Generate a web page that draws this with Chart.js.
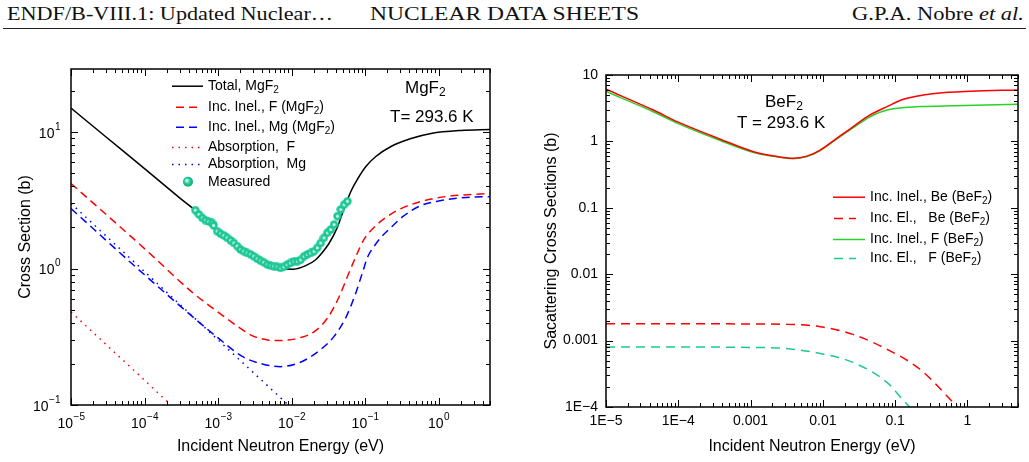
<!DOCTYPE html>
<html><head><meta charset="utf-8">
<script src="https://cdn.jsdelivr.net/npm/chart.js@4.4.0/dist/chart.umd.min.js"></script>
<style>
html,body{margin:0;padding:0;background:#fff;width:1029px;height:462px;overflow:hidden;}
#hdr span{position:absolute;top:4px;white-space:nowrap;transform-origin:0 0;font-family:"Liberation Serif","DejaVu Serif",serif;font-size:19px;line-height:19px;color:#111;}
#rule{position:absolute;left:3px;top:28px;width:1023px;height:1px;background:#222;}
.cv{position:absolute;top:40px;}
</style></head>
<body>
<div id="hdr">
  <span id="h1" data-w="326" style="left:7px">ENDF/B-VIII.1: Updated Nuclear…</span>
  <span id="h2" data-w="269" style="left:370px">NUCLEAR DATA SHEETS</span>
  <span id="h3" data-w="172" style="left:852px">G.P.A. Nobre <i>et al.</i></span>
</div>
<div id="rule"></div>
<canvas id="c1" class="cv" width="515" height="422" style="left:0px"></canvas>
<canvas id="c2" class="cv" width="514" height="422" style="left:515px"></canvas>
<script>
// ---------------- Left panel: MgF2 ----------------
const mgTickX = [1e-5, 1e-4, 1e-3, 1e-2, 1e-1, 1];
const mgTickXLabels = ['10⁻⁵', '10⁻⁴', '10⁻³', '10⁻²', '10⁻¹', '10⁰'];
const mgTickY = [0.1, 1, 10];
const mgTickYLabels = ['10⁻¹', '10⁰', '10¹'];

const mgTotalE = [1e-5, 3e-5, 1e-4, 3e-4, 5e-4, 1e-3, 2e-3, 4e-3, 7e-3, 1.07e-2, 1.56e-2, 2.13e-2, 2.49e-2, 3.21e-2, 4.12e-2, 5.14e-2, 6.4e-2, 7.98e-2, 0.1026, 0.14, 0.225, 0.422, 0.791, 2.03, 5];
const mgTotal  = [15.0, 9.2, 5.4, 3.3, 2.65, 1.88, 1.37, 1.09, 1.0, 0.99, 1.05, 1.16, 1.27, 1.52, 1.96, 2.71, 3.67, 4.57, 5.6, 6.62, 7.84, 8.97, 9.77, 10.28, 10.45];

const mgInelFE = [1e-5, 1e-4, 4.6e-4, 1e-3, 1.8e-3, 3e-3, 4.7e-3, 6.5e-3, 1.33e-2, 2.13e-2, 3.11e-2, 4.39e-2, 5.83e-2, 7.49e-2, 9.62e-2, 0.132, 0.192, 0.308, 0.577, 1.26, 5];
const mgInelF  = [4.2, 1.4, 0.66, 0.48, 0.38, 0.32, 0.30, 0.297, 0.312, 0.351, 0.437, 0.613, 0.889, 1.224, 1.632, 2.0, 2.37, 2.75, 3.10, 3.37, 3.55];

const mgInelMgE = [1e-5, 1e-4, 1e-3, 2.2e-3, 4e-3, 7.1e-3, 1.175e-2, 1.66e-2, 2.49e-2, 3.76e-2, 5.47e-2, 7.26e-2, 9.04e-2, 0.109, 0.132, 0.164, 0.225, 0.328, 0.577, 1.08, 2.37, 5];
const mgInelMg  = [2.75, 0.9, 0.31, 0.225, 0.2, 0.191, 0.201, 0.219, 0.255, 0.317, 0.437, 0.634, 0.904, 1.224, 1.45, 1.69, 2.0, 2.41, 2.90, 3.15, 3.32, 3.37];

const mgAbsFE = [1e-5, 1e-4, 2e-4, 3e-4];
const mgAbsF  = [0.48, 0.152, 0.107, 0.088];

const mgAbsMgE = [1e-5, 1e-4, 1e-3, 1e-2, 2e-2];
const mgAbsMg  = [3.0, 0.95, 0.30, 0.095, 0.067];

const measE = [4.9e-4, 5.5e-4, 6.1e-4, 6.7e-4, 7.5e-4, 8.3e-4, 8.7e-4, 9.7e-4, 1.08e-3, 1.2e-3, 1.33e-3, 1.48e-3, 1.64e-3, 1.82e-3, 2.02e-3, 2.24e-3, 2.49e-3, 2.77e-3, 3.07e-3, 3.41e-3, 3.79e-3, 4.2e-3, 4.67e-3, 5.19e-3, 5.75e-3, 6.39e-3, 7.1e-3, 7.88e-3, 8.75e-3, 9.7e-3, 1.08e-2, 1.2e-2, 1.33e-2, 1.48e-2, 1.64e-2, 1.82e-2, 2.02e-2, 2.24e-2, 2.49e-2, 2.76e-2, 3.07e-2, 3.4e-2, 3.78e-2, 4.2e-2, 4.67e-2, 5.18e-2, 5.75e-2];
const measS = [2.68, 2.49, 2.35, 2.26, 2.21, 2.16, 2.07, 1.88, 1.80, 1.75, 1.68, 1.61, 1.54, 1.46, 1.38, 1.34, 1.30, 1.27, 1.23, 1.18, 1.14, 1.11, 1.07, 1.05, 1.04, 1.03, 1.01, 1.03, 1.07, 1.10, 1.13, 1.13, 1.16, 1.23, 1.27, 1.30, 1.34, 1.42, 1.54, 1.68, 1.83, 1.93, 2.10, 2.42, 2.71, 2.94, 3.11];

// ---------------- Right panel: BeF2 ----------------
const beTickX = [1e-5, 1e-4, 1e-3, 1e-2, 1e-1, 1];
const beTickXLabels = ['1E−5', '1E−4', '0.001', '0.01', '0.1', '1'];
const beTickY = [1e-4, 1e-3, 1e-2, 0.1, 1, 10];
const beTickYLabels = ['1E−4', '0.001', '0.01', '0.1', '1', '10'];

const beInelBeE = [1e-5, 4.5e-5, 1e-4, 3.8e-4, 1.1e-3, 2e-3, 3.9e-3, 6e-3, 9.2e-3, 1.55e-2, 2.6e-2, 4.5e-2, 7.7e-2, 0.13, 0.38, 1.1, 5];
const beInelBe  = [6.1, 2.97, 1.95, 1.08, 0.70, 0.61, 0.556, 0.6, 0.74, 1.11, 1.66, 2.5, 3.34, 4.3, 5.3, 5.7, 5.95];

const beElBeE = [1e-5, 1e-4, 1e-3, 3.1e-3, 9.2e-3, 2.6e-2, 7.7e-2, 0.22, 0.65, 0.8];
const beElBe  = [0.0018, 0.0018, 0.00178, 0.00176, 0.00162, 0.00124, 0.00074, 0.00037, 0.000114, 0.00009];

const beInelFE = [1e-5, 4.5e-5, 1e-4, 3.8e-4, 1.1e-3, 2e-3, 3.9e-3, 6e-3, 9.2e-3, 1.55e-2, 2.6e-2, 4.5e-2, 7.7e-2, 0.22, 0.65, 5];
const beInelF  = [5.65, 2.8, 1.85, 1.03, 0.68, 0.6, 0.55, 0.59, 0.73, 1.08, 1.6, 2.35, 2.97, 3.34, 3.45, 3.62];

const beElFE = [1e-5, 1e-4, 1e-3, 3.1e-3, 9.2e-3, 2.6e-2, 7.7e-2, 0.14, 0.2];
const beElF  = [0.0008, 0.0008, 0.00079, 0.00076, 0.00064, 0.00047, 0.000235, 0.000115, 0.00008];

// ---------------- helpers ----------------
const pts = (xs, ys) => xs.map((x, i) => ({x: x, y: ys[i]}));
const SANS = '"Liberation Sans", Arial, "DejaVu Sans", sans-serif';
const SUP = {'⁻': '−', '⁰': '0', '¹': '1', '²': '2', '³': '3', '⁴': '4', '⁵': '5', '⁶': '6', '⁷': '7', '⁸': '8', '⁹': '9'};

function makeDot() {
  const c = document.createElement('canvas'); c.width = c.height = 9;
  const g = c.getContext('2d');
  g.fillStyle = '#1ec896'; g.beginPath(); g.arc(4.5, 4.5, 4.2, 0, Math.PI * 2); g.fill();
  g.fillStyle = 'rgba(235,255,248,0.9)'; g.beginPath(); g.arc(4.5, 4.5, 1.5, 0, Math.PI * 2); g.fill();
  return c;
}

// draw text; '₂' rendered as a real subscript 2
function drawRich(ctx, str, x, y, size) {
  ctx.textBaseline = 'middle'; ctx.textAlign = 'left';
  let cx = x;
  for (const part of str.split(/(₂)/)) {
    if (!part) continue;
    if (part === '₂') {
      ctx.font = Math.round(size * 0.7) + 'px ' + SANS;
      ctx.fillText('2', cx, y + size * 0.3);
      cx += ctx.measureText('2').width;
    } else {
      ctx.font = size + 'px ' + SANS;
      ctx.fillText(part, cx, y);
      cx += ctx.measureText(part).width;
    }
  }
}

// power-of-ten label: '10' + raised exponent; align 'center' or 'right'
function drawPow(ctx, label, x, y, align) {
  const base = label.replace(/[⁻⁰¹²³⁴⁵⁶⁷⁸⁹]/g, '');
  const exp = label.slice(base.length).split('').map(c => SUP[c] || c).join('');
  ctx.textBaseline = 'middle'; ctx.textAlign = 'left';
  ctx.font = '14px ' + SANS; const wb = ctx.measureText(base).width;
  ctx.font = '10px ' + SANS; const we = ctx.measureText(exp).width;
  const x0 = align === 'center' ? x - (wb + we) / 2 : x - (wb + we);
  ctx.font = '14px ' + SANS; ctx.fillText(base, x0, y + 1);
  ctx.font = '10px ' + SANS; ctx.fillText(exp, x0 + wb + 0.5, y - 6);
}

const framePlugin = {
  id: 'frame',
  afterDraw(chart) {
    const {ctx, chartArea: a, scales} = chart;
    const x = scales.x, y = scales.y;
    const list = (s) => {
      const out = [];
      const lo = Math.floor(Math.log10(s.min)), hi = Math.ceil(Math.log10(s.max));
      for (let d = lo; d <= hi; d++) for (let m = 1; m < 10; m++) {
        const v = m * Math.pow(10, d);
        if (v >= s.min * 0.999 && v <= s.max * 1.001) out.push({v: v, major: m === 1});
      }
      return out;
    };
    ctx.save();
    ctx.strokeStyle = '#000'; ctx.lineWidth = 1;
    ctx.beginPath();
    for (const t of list(x)) {
      const p = Math.round(x.getPixelForValue(t.v)) + 0.5, L = t.major ? 7 : 4;
      ctx.moveTo(p, a.bottom); ctx.lineTo(p, a.bottom - L);
      ctx.moveTo(p, a.top); ctx.lineTo(p, a.top + L);
    }
    for (const t of list(y)) {
      const p = Math.round(y.getPixelForValue(t.v)) + 0.5, L = t.major ? 7 : 4;
      ctx.moveTo(a.left, p); ctx.lineTo(a.left + L, p);
      ctx.moveTo(a.right, p); ctx.lineTo(a.right - L, p);
    }
    ctx.stroke();
    ctx.lineWidth = 1.5;
    ctx.strokeRect(a.left, a.top, a.right - a.left, a.bottom - a.top);
    // power-of-ten tick labels placed by the scales
    const pw = chart.options.plugins.notes.pow;
    if (pw) {
      ctx.fillStyle = '#000';
      x.ticks.forEach((t, i) => drawPow(ctx, pw.xl[i], x.getPixelForValue(t.value), a.bottom + 18, 'center'));
      y.ticks.forEach((t, i) => drawPow(ctx, pw.yl[i], a.left - 11, y.getPixelForValue(t.value) + 1, 'right'));
    }
    ctx.restore();
  }
};

const notesPlugin = {
  id: 'notes',
  afterDraw(chart, args, opts) {
    const ctx = chart.ctx;
    ctx.save();
    ctx.fillStyle = '#000';
    for (const n of (opts.notes || [])) drawRich(ctx, n.text, n.x, n.y, n.size);
    const lg = opts.legend;
    if (lg) {
      chart.data.datasets.forEach((ds, i) => {
        const yy = lg.rows[i];
        const s = lg.samples[i];
        if (s.type === 'dot') {
          const g = ctx.createRadialGradient(s.x - 1.5, yy - 1.5, 0.5, s.x, yy, 5);
          g.addColorStop(0, '#e8fff6'); g.addColorStop(0.45, '#2fd3a0'); g.addColorStop(1, '#10a878');
          ctx.fillStyle = g; ctx.beginPath(); ctx.arc(s.x, yy, 5, 0, Math.PI * 2); ctx.fill();
        } else {
          ctx.strokeStyle = ds.borderColor; ctx.lineWidth = ds.borderWidth;
          ctx.setLineDash(ds.borderDash || []);
          ctx.beginPath(); ctx.moveTo(s.x0, yy + 0.5); ctx.lineTo(s.x1, yy + 0.5); ctx.stroke();
          ctx.setLineDash([]);
        }
        ctx.fillStyle = '#000';
        drawRich(ctx, ds.label, lg.textX, yy, lg.size);
      });
    }
    ctx.restore();
  }
};

function buildOptions(cfg) {
  const showLib = !cfg.pow;
  return {
    responsive: false, animation: false, devicePixelRatio: 1,
    layout: {padding: {left: 0, top: cfg.area.top, right: cfg.w - cfg.area.right, bottom: 0}},
    plugins: {
      legend: {display: false}, tooltip: {enabled: false},
      notes: {notes: cfg.notes, legend: cfg.legend, pow: cfg.pow}
    },
    scales: {
      x: {
        type: 'logarithmic', position: 'bottom', min: cfg.xmin, max: cfg.xmax,
        grid: {display: false, drawTicks: false}, border: {display: false},
        ticks: {display: showLib, color: '#000', font: {family: SANS, size: 14}, padding: cfg.xPad, autoSkip: false, maxRotation: 0,
                callback: (v) => { const i = cfg.xt.findIndex(t => Math.abs(t - v) / t < 1e-6); return i >= 0 ? cfg.xtl[i] : ''; }},
        afterBuildTicks: (s) => { s.ticks = cfg.xt.map(v => ({value: v})); },
        afterFit: (s) => { s.height = cfg.h - cfg.area.bottom; },
        title: {display: true, text: 'Incident Neutron Energy (eV)', color: '#000', font: {family: SANS, size: 16}, padding: {top: 0, bottom: 5.4}}
      },
      y: {
        type: 'logarithmic', position: 'left', min: cfg.ymin, max: cfg.ymax,
        grid: {display: false, drawTicks: false}, border: {display: false},
        ticks: {display: showLib, color: '#000', font: {family: SANS, size: 14}, padding: cfg.yPad, autoSkip: false,
                callback: (v) => { const i = cfg.yt.findIndex(t => Math.abs(t - v) / t < 1e-6); return i >= 0 ? cfg.ytl[i] : ''; }},
        afterBuildTicks: (s) => { s.ticks = cfg.yt.map(v => ({value: v})); },
        afterFit: (s) => { s.width = cfg.area.left; },
        title: {display: true, text: cfg.yTitle, color: '#000', font: {family: SANS, size: 16}, padding: {top: cfg.yTitlePad, bottom: 0}}
      }
    }
  };
}

const line = (label, xs, ys, color, dash, width) => ({
  label: label, data: pts(xs, ys), showLine: true, pointRadius: 0, borderColor: color,
  borderWidth: width || 1.5, borderDash: dash || [], cubicInterpolationMode: 'monotone', fill: false
});

// Left chart
const dot = makeDot();
new Chart(document.getElementById('c1'), {
  type: 'scatter',
  data: {datasets: [
    line('Total, MgF₂', mgTotalE, mgTotal, '#000000', [], 1.5),
    line('Inc. Inel., F (MgF₂)', mgInelFE, mgInelF, '#ff0000', [8, 5]),
    line('Inc. Inel., Mg (MgF₂)', mgInelMgE, mgInelMg, '#0000ff', [8, 5]),
    line('Absorption,  F', mgAbsFE, mgAbsF, '#ff0000', [1.5, 5]),
    line('Absorption,  Mg', mgAbsMgE, mgAbsMg, '#0000ff', [1.5, 5]),
    {label: 'Measured', data: pts(measE, measS), showLine: false, pointStyle: dot, pointRadius: 4.5, order: -1}
  ]},
  options: buildOptions({
    w: 515, h: 422, area: {left: 71, top: 29, right: 490, bottom: 365},
    xmin: 1e-5, xmax: 5, ymin: 0.1, ymax: 29,
    xt: mgTickX, xtl: mgTickXLabels, yt: mgTickY, ytl: mgTickYLabels,
    pow: {xl: mgTickXLabels, yl: mgTickYLabels},
    xPad: 10, yPad: 11, yTitle: 'Cross Section (b)', yTitlePad: 16,
    notes: [{text: 'MgF₂', x: 405, y: 48, size: 17}, {text: 'T= 293.6 K', x: 390, y: 77, size: 17}],
    legend: {textX: 208, size: 14, rows: [45.7, 66.7, 86.7, 107, 124, 141.7],
      samples: [{x0: 172, x1: 203}, {x0: 176, x1: 197}, {x0: 176, x1: 197}, {x0: 172, x1: 203}, {x0: 172, x1: 203}, {type: 'dot', x: 188}]}
  }),
  plugins: [framePlugin, notesPlugin]
});

// Right chart
new Chart(document.getElementById('c2'), {
  type: 'scatter',
  data: {datasets: [
    line('Inc. Inel., Be (BeF₂)', beInelBeE, beInelBe, '#ff0000', [], 1.5),
    line('Inc. El.,   Be (BeF₂)', beElBeE, beElBe, '#ff0000', [9, 6]),
    line('Inc. Inel., F (BeF₂)', beInelFE, beInelF, '#28d228', [], 1.5),
    line('Inc. El.,   F (BeF₂)', beElFE, beElF, '#1ec896', [9, 6])
  ]},
  options: buildOptions({
    w: 514, h: 422, area: {left: 91, top: 35, right: 503, bottom: 367},
    xmin: 1e-5, xmax: 5, ymin: 1e-4, ymax: 10,
    xt: beTickX, xtl: beTickXLabels, yt: beTickY, ytl: beTickYLabels,
    xPad: 6, yPad: 8, yTitle: 'Sacattering Cross Sections (b)', yTitlePad: 27,
    notes: [{text: 'BeF₂', x: 250, y: 62, size: 17}, {text: 'T = 293.6 K', x: 222, y: 83, size: 17}],
    legend: {textX: 355, size: 14, rows: [156.7, 178, 199, 218],
      samples: [{x0: 318, x1: 350}, {x0: 319, x1: 341}, {x0: 318, x1: 350}, {x0: 319, x1: 341}]}
  }),
  plugins: [framePlugin, notesPlugin]
});

// fit header texts to their measured widths
for (const id of ['h1', 'h2', 'h3']) {
  const el = document.getElementById(id);
  const w = el.getBoundingClientRect().width;
  el.style.transform = 'scaleX(' + (parseFloat(el.dataset.w) / w) + ')';
}
</script>
</body></html>
